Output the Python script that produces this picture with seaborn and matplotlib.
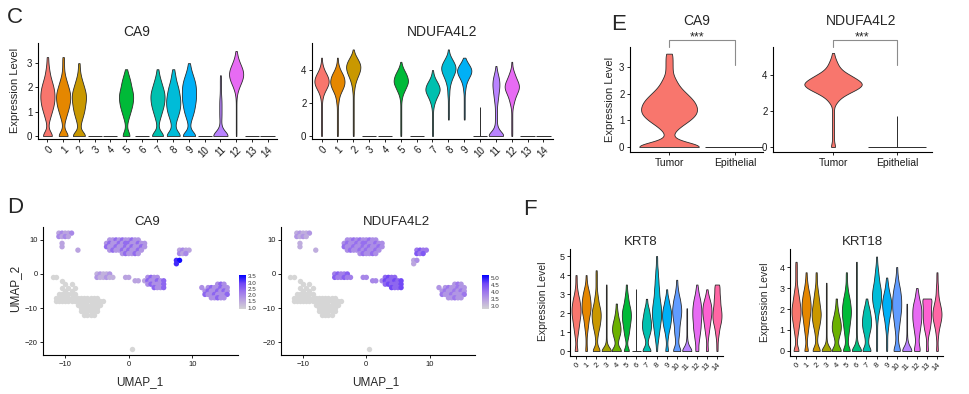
import numpy as np
import pandas as pd
import matplotlib
matplotlib.use('Agg')
import matplotlib.pyplot as plt
import seaborn as sns
from matplotlib.colors import LinearSegmentedColormap, Normalize
from matplotlib.cm import ScalarMappable

sns.set_style('ticks')
plt.rcParams['font.family'] = ['Liberation Sans', 'DejaVu Sans']

# ---- data ----
clusters = [str(i) for i in range(15)]
cluster_colors = ['#F8766D', '#E58700', '#C99800', '#A3A500', '#6BB100', '#00BA38', '#00BF7D',
                  '#00C0AF', '#00BCD8', '#00B0F6', '#619CFF', '#B983FF', '#E76BF3', '#FD61D1', '#FF67A4']

# violins: cell counts per 0.25 expression bin (base-36 digits), first bin = zero expression
BIN = 0.25
ca9_c = ['811357887532110', '811357886421110', 'b12467886421100', 'z00000000000000',
         'z00000000000000', '611357886531000', 'z00000000000000', 'a11357886421000',
         'a22467765321000', 'a11356777642100', 'z00000000000000', 'k41222211110000',
         '111111139iolc52', 'z00000000000000', 'z00000000000000']
ndufa_c = ['111111111248dgfb631100', '111111112359dfeb631100', '111111111112358cfgd831',
           'z000000000000000000000', 'z000000000000000000000', '111111111248cgfc731000',
           'z000000000000000000000', '1111111247bfea52100000', '000011111122358cffb621',
           '000011111112359egc6200', 'z000000100000000000000', 'ka42222234567764210000',
           '11111112469dfd96311000', 'z000000000000000000000', 'z000000000000000000000']
krt8 = ['311234567765321110000', '211123457887642110000', '821235677643211111000',
        'k41111111111111000000', 'a22466532110000000000', '611345677643211000000',
        'z000000000000100000000', '821356654311000000000', '112345677765443322111',
        '311235677643110000000', '832344567765321100000', 'k62111111100000000000',
        '323456677765321000000', '211234567764210000000', '111234677655444000000']
krt18 = ['5112345665432111110', '4112345677653211000', '8212356765432111000',
         'k411111111111100000', '9224665321100000000', '8223456776532111000',
         'k521111111111111110', '8223566542100000000', '1111112357887543211',
         '1111234678753210000', '7322345677765321100', 'k621111111000000000',
         '5323456665321000000', '2112456666800000000', '2112357875322111000']
groups_e = ['Tumor', 'Epithelial']
ca9_e = ['e11368875321111', 'z00000000000000']
ndufa_e = ['311111111148gqwqia6421', 'z000000100000000000000']

# UMAP: occupied cells (row, first column, blob codes); x = -13 + 0.5*col, y = 12 - row
# '.' = not expressed, letter = blob, upper case = higher expression within blob
umap_cells = [
    (0, 4, 'aAaaA'), (1, 4, 'AaAa'),
    (2, 20, 'bbBbBbbBbb'),
    (3, 5, 'a'), (3, 19, 'bBbbBbBBbbBbb'),
    (4, 5, 'a'), (4, 19, 'BbbBbbBbBbbBb'),
    (5, 10, 'a'), (5, 20, 'bBbbBbBbbBb'), (5, 42, 'cCcc'),
    (6, 24, 'bBbbBb'), (6, 42, 'CcC'),
    (8, 41, 'dD'), (9, 41, 'd'),
    (12, 16, 'eEeeE'),
    (13, 2, '..'), (13, 16, 'EeeEee'), (13, 25, 'ff'), (13, 32, 'gGgg'),
    (14, 5, '.'), (14, 28, 'ff f'), (14, 32, 'GggGgG'),
    (15, 6, '. .'), (15, 32, 'gGgggG'), (15, 54, 'hHh'),
    (16, 5, '. . .'), (16, 34, 'GggG'), (16, 49, 'h hHhhHhh'),
    (17, 6, '. .'), (17, 50, 'hHhhHhHh'),
    (18, 4, '......'), (18, 50, 'HhhHhhhH'),
    (19, 3, '..............'), (19, 52, 'hhHhh'),
    (20, 3, '................'),
    (21, 10, '........'),
    (22, 11, '......'), (23, 11, '......'), (24, 12, '....'),
    (34, 27, '.'),
]
blob_ids = ['a', 'b', 'c', 'd', 'e', 'f', 'g', 'h']
ca9_blob_lo = [1.6, 1.8, 1.6, 3.2, 1.4, 1.6, 1.9, 1.9]
ca9_blob_hi = [2.0, 2.4, 2.0, 3.5, 1.8, 2.0, 2.5, 2.5]
ndufa_blob_lo = [3.3, 3.7, 4.0, 3.4, 3.9, 3.8, 4.2, 3.6]
ndufa_blob_hi = [3.6, 4.1, 4.4, 3.7, 4.3, 4.2, 4.6, 4.0]
ca9_cbar_ticks = [1.0, 1.5, 2.0, 2.5, 3.0, 3.5]
ndufa_cbar_ticks = [3.0, 3.5, 4.0, 4.5, 5.0]

# ---- helpers ----
W, H = 970, 394
EDGE = '#2b2b2b'
BW = 0.17
fig = plt.figure(figsize=(9.7, 3.94), dpi=100)


def rect(l, t, r, b):
    return [l / W, 1 - b / H, (r - l) / W, (b - t) / H]


def label(x, y, s, **kw):
    kw.setdefault('ha', 'center')
    kw.setdefault('va', 'center')
    fig.text(x / W, 1 - y / H, s, **kw)


def expand(strings, names):
    parts, flats = [], []
    for name, s in zip(names, strings):
        counts = [int(ch, 36) for ch in s]
        vals = np.repeat(np.arange(len(counts)) * BIN, counts)
        if (vals == 0).mean() >= 0.9:
            flats.append((name, vals.max()))
        else:
            parts.append(pd.DataFrame({'group': name, 'value': vals}))
    return pd.concat(parts, ignore_index=True), flats


def style(ax, ylim, yticks, yfs, xfs, rot):
    ax.set_ylim(*ylim)
    ax.set_yticks(yticks)
    ax.set_xlabel('')
    ax.set_ylabel('')
    sns.despine(ax=ax)
    for side in ['left', 'bottom']:
        ax.spines[side].set_linewidth(0.8)
        ax.spines[side].set_color('black')
    ax.tick_params(length=2.5, width=0.6, color='black', labelcolor='#1a1a1a', pad=1.5)
    ax.tick_params(axis='y', labelsize=yfs)
    ax.tick_params(axis='x', labelsize=xfs)
    if rot:
        for lab in ax.get_xticklabels():
            lab.set_rotation(45)
            lab.set_ha('right')
            lab.set_rotation_mode('anchor')


def violins(ax, strings, names, colors, xlim, ylim, yticks, yfs=7, xfs=7, rot=True):
    df, flats = expand(strings, names)
    sns.violinplot(data=df, x='group', y='value', hue='group', order=names, hue_order=names,
                   palette=dict(zip(names, colors)), legend=False, inner=None, cut=0,
                   density_norm='width', width=0.9, linewidth=0.6, linecolor=EDGE,
                   saturation=1, bw_method=lambda k: BW / k.dataset.std(), ax=ax)
    for name, top in flats:
        i = names.index(name)
        ax.hlines(0, i - 0.45, i + 0.45, color=EDGE, lw=0.7)
        if top > 0:
            ax.vlines(i, 0, top, color=EDGE, lw=0.7)
    ax.set_xlim(*xlim)
    style(ax, ylim, yticks, yfs, xfs, rot)


umap_cmap = LinearSegmentedColormap.from_list(
    'feat', ['#D3D3D3', '#BBA5E0', '#9D77EC', '#7248F6', '#0000FF'])


def umap(ax, cax, lo, hi, vmin, vmax, ticks):
    gx, gy, px, py, pv = [], [], [], [], []
    for row, col, text in umap_cells:
        for k, ch in enumerate(text):
            if ch == ' ':
                continue
            x, y = -13 + 0.5 * (col + k), 12 - row
            if ch == '.':
                gx.append(x); gy.append(y)
            else:
                j = blob_ids.index(ch.lower())
                px.append(x); py.append(y); pv.append(hi[j] if ch.isupper() else lo[j])
    sns.scatterplot(x=gx, y=gy, color='#D6D6D6', marker='o', s=15, linewidth=0, ax=ax)
    sns.scatterplot(x=px, y=py, hue=pv, palette=umap_cmap, hue_norm=(vmin, vmax),
                    legend=False, marker='o', s=15, linewidth=0, ax=ax)
    ax.set_xlim(-13.5, 17.2)
    ax.set_xticks([-10, 0, 10])
    style(ax, (-23.8, 13.8), [-20, -10, 0, 10], 5.5, 5.5, False)
    cb = fig.colorbar(ScalarMappable(norm=Normalize(vmin, vmax), cmap=umap_cmap), cax=cax)
    cb.set_ticks(ticks)
    cb.set_ticklabels([f'{t:.1f}' for t in ticks])
    cb.ax.tick_params(labelsize=4.5, length=0, pad=1, labelcolor='#333333')
    cb.outline.set_visible(False)


# ---- C ----
ax = fig.add_axes(rect(38, 43, 277, 139))
violins(ax, ca9_c, clusters, cluster_colors, (-0.6, 14.6), (-0.123, 3.83), [0, 1, 2, 3])
ax = fig.add_axes(rect(312, 43, 553, 139))
violins(ax, ndufa_c, clusters, cluster_colors, (-0.6, 14.6), (-0.18, 5.64), [0, 2, 4])

# ---- E ----
salmon = [cluster_colors[0]] * 2
ax_e1 = fig.add_axes(rect(630, 47, 763, 152))
violins(ax_e1, ca9_e, groups_e, salmon, (-0.59, 1.42), (-0.19, 3.75), [0, 1, 2, 3],
        xfs=7.5, rot=False)
ax_e2 = fig.add_axes(rect(773, 47, 932, 152))
violins(ax_e2, ndufa_e, groups_e, salmon, (-0.94, 1.55), (-0.28, 5.58), [0, 2, 4],
        xfs=7.5, rot=False)
for a, (y_top, y_left, y_right) in [(ax_e1, (4.0, 3.75, 3.07)), (ax_e2, (5.98, 5.59, 4.58))]:
    a.plot([0, 0, 1, 1], [y_left, y_top, y_top, y_right], color='#8c8c8c', lw=0.8,
           clip_on=False)

# ---- D ----
umap(fig.add_axes(rect(43, 227, 238, 355)), fig.add_axes(rect(239, 275, 246, 309)),
     ca9_blob_lo, ca9_blob_hi, 0.9, 3.6, ca9_cbar_ticks)
umap(fig.add_axes(rect(281, 227, 475, 355)), fig.add_axes(rect(482, 275, 489, 309)),
     ndufa_blob_lo, ndufa_blob_hi, 2.8, 5.2, ndufa_cbar_ticks)

# ---- F ----
ax = fig.add_axes(rect(570, 249, 723, 356))
violins(ax, krt8, clusters, cluster_colors, (-0.6, 14.6), (-0.26, 5.37), [0, 1, 2, 3, 4, 5],
        yfs=6.5, xfs=5.5)
ax = fig.add_axes(rect(790, 249, 943, 356))
violins(ax, krt18, clusters, cluster_colors, (-0.6, 14.6), (-0.24, 4.86), [0, 1, 2, 3, 4],
        yfs=6.5, xfs=5.5)

# ---- text ----
for s, x, y in [('C', 7, 23), ('D', 7, 213), ('E', 611, 30), ('F', 523, 215)]:
    label(x, y, s, fontsize=16, ha='left', va='baseline')
for s, x, y, fs in [('CA9', 137, 32, 10), ('NDUFA4L2', 442, 32, 10),
                    ('CA9', 697, 21, 10), ('NDUFA4L2', 861, 21, 10),
                    ('CA9', 147, 222, 9.5), ('NDUFA4L2', 396, 222, 9.5),
                    ('KRT8', 641, 242, 9.5), ('KRT18', 862, 242, 9.5)]:
    label(x, y, s, fontsize=fs)
for x in [697, 862]:
    label(x, 40, '***', fontsize=9, va='baseline')
for x, y, fs in [(15, 90, 8), (610, 99, 8), (543, 301, 7.5), (765, 302, 7.5)]:
    label(x, y, 'Expression Level', fontsize=fs, rotation=90)
label(15, 288, 'UMAP_2', fontsize=8.5, rotation=90)
label(140, 382, 'UMAP_1', fontsize=8.5)
label(376, 382, 'UMAP_1', fontsize=8.5)

fig.savefig('out.png', dpi=100)
